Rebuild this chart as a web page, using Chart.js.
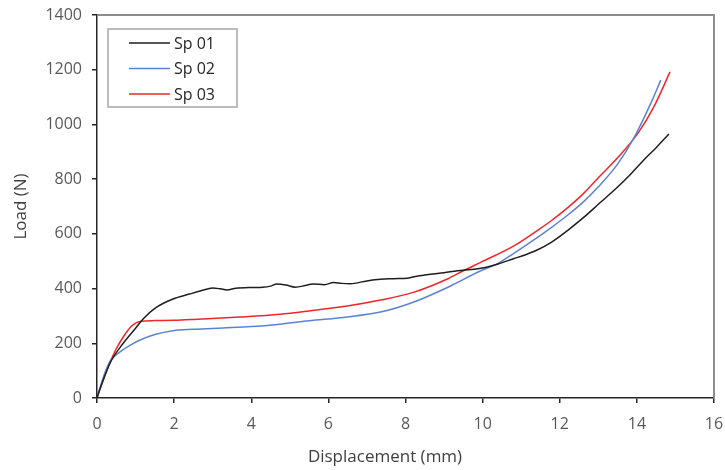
<!DOCTYPE html>
<html>
<head>
<meta charset="utf-8">
<script src="https://cdn.jsdelivr.net/npm/chart.js@4/dist/chart.umd.min.js"></script>
<style>
  html, body { margin: 0; padding: 0; background: #fff; }
  #wrap { width: 725px; height: 470px; position: relative; }
</style>
</head>
<body>
<div id="wrap"><canvas id="c" width="725" height="470"></canvas></div>
<script>
// ---- data ----
const seriesLabels = ['Sp 01', 'Sp 02', 'Sp 03'];
const xTitle = 'Displacement (mm)';
const yTitle = 'Load (N)';
const xTicks = [0, 2, 4, 6, 8, 10, 12, 14, 16];
const yTicks = [0, 200, 400, 600, 800, 1000, 1200, 1400];

const sp01X = [0, 0.1, 0.34, 0.68, 1.0, 1.2, 1.5, 1.97, 2.4, 2.7, 3.0, 3.2, 3.37, 3.6, 4.0, 4.3, 4.5, 4.66, 4.9, 5.14, 5.4, 5.6, 5.9, 6.13, 6.35, 6.57, 7.0, 7.35, 7.7, 8.05, 8.3, 8.65, 9.0, 9.35, 9.7, 9.95, 10.4, 10.8, 11.1, 11.4, 11.77, 12.2, 12.62, 13.0, 13.5, 13.85, 14.18, 14.5, 14.83];
const sp01Y = [0, 42, 128, 200, 255, 290, 328, 362, 380, 392, 402, 399, 395, 401, 404, 405, 409, 417, 413, 405, 411, 417, 414, 422, 419, 418, 428, 434, 436, 438, 445, 452, 458, 465, 470, 474, 490, 509, 523, 540, 568, 612, 660, 708, 771, 820, 870, 915, 965];

const sp02X = [0, 0.08, 0.2, 0.34, 0.5, 0.68, 0.9, 1.12, 1.5, 1.97, 2.5, 3.27, 4.0, 4.75, 5.5, 6.49, 7.35, 8.2, 9.1, 9.95, 10.4, 10.8, 11.3, 11.77, 12.2, 12.62, 13.0, 13.5, 13.92, 14.36, 14.62];
const sp02Y = [0, 38, 90, 135, 158, 177, 196, 212, 232, 246, 251, 256, 261, 270, 282, 296, 314, 350, 405, 465, 492, 528, 575, 622, 668, 718, 772, 855, 950, 1077, 1162];

const sp03X = [0, 0.1, 0.34, 0.5, 0.68, 0.86, 1.0, 1.12, 1.5, 2.0, 2.6, 3.71, 4.75, 5.5, 6.49, 7.35, 8.2, 9.1, 9.5, 9.95, 10.8, 11.5, 11.77, 12.2, 12.62, 13.0, 13.5, 14.03, 14.44, 14.86];
const sp03Y = [0, 42, 131, 180, 223, 258, 274, 280, 283, 284, 288, 296, 306, 318, 336, 358, 386, 436, 465, 496, 555, 620, 647, 695, 748, 805, 878, 968, 1064, 1192];

const colors = ['#1e1e1e', '#5b84cf', '#f0262a'];

function pts(xs, ys) { return xs.map((x, i) => ({ x: x, y: ys[i] })); }

const FONT = '"Open Sans", Lato, sans-serif';

const framePlugin = {
  id: 'frameLegend',
  afterDatasetsDraw(chart) {
    const { ctx, chartArea: a } = chart;
    ctx.save();
    // gray frame top and right
    ctx.strokeStyle = '#8c8c8c';
    ctx.lineWidth = 2;
    ctx.beginPath();
    ctx.moveTo(a.left, a.top);
    ctx.lineTo(a.right, a.top);
    ctx.lineTo(a.right, a.bottom);
    ctx.stroke();
    // legend box
    const bx = 108, by = 29, bw = 129, bh = 78;
    ctx.fillStyle = '#fff';
    ctx.fillRect(bx, by, bw, bh);
    ctx.strokeStyle = '#a6a6a6';
    ctx.lineWidth = 1.5;
    ctx.strokeRect(bx, by, bw, bh);
    ctx.font = '16px ' + FONT;
    ctx.textBaseline = 'middle';
    ctx.textAlign = 'left';
    chart.data.datasets.forEach((ds, i) => {
      const yy = 43 + i * 25.5;
      ctx.strokeStyle = ds.borderColor;
      ctx.lineWidth = 1.5;
      ctx.beginPath();
      ctx.moveTo(129, yy);
      ctx.lineTo(170, yy);
      ctx.stroke();
      ctx.fillStyle = '#262626';
      ctx.fillText(ds.label, 174, yy + 1);
    });
    // axis titles
    ctx.fillStyle = '#404040';
    ctx.font = '17px ' + FONT;
    ctx.textAlign = 'center';
    ctx.textBaseline = 'middle';
    ctx.fillText(xTitle, 385, 457);
    ctx.translate(21, (a.top + a.bottom) / 2);
    ctx.rotate(-Math.PI / 2);
    ctx.fillText(yTitle, 0, 0);
    ctx.restore();
  }
};

new Chart(document.getElementById('c'), {
  type: 'line',
  data: {
    datasets: [
      { label: seriesLabels[0], data: pts(sp01X, sp01Y), borderColor: colors[0] },
      { label: seriesLabels[1], data: pts(sp02X, sp02Y), borderColor: colors[1] },
      { label: seriesLabels[2], data: pts(sp03X, sp03Y), borderColor: colors[2] }
    ].map(d => Object.assign(d, { borderWidth: 1.5, pointRadius: 0, fill: false, cubicInterpolationMode: 'monotone' }))
  },
  options: {
    responsive: false,
    animation: false,
    devicePixelRatio: 1,
    layout: { padding: { top: 15, right: 11, left: 0, bottom: 0 } },
    plugins: { legend: { display: false }, tooltip: { enabled: false } },
    scales: {
      x: {
        type: 'linear',
        min: 0, max: 16,
        afterBuildTicks(s) { s.ticks = xTicks.map(v => ({ value: v })); },
        afterFit(s) { s.height = 72; s.paddingLeft = 0; s.paddingRight = 0; },
        border: { color: '#262626', width: 1.5 },
        grid: { drawOnChartArea: false, drawTicks: true, tickLength: 5, color: '#262626', lineWidth: 1.5 },
        ticks: { color: '#595959', font: { size: 16, family: FONT }, padding: 12, maxRotation: 0, callback: v => String(v) }
      },
      y: {
        min: 0, max: 1400,
        afterBuildTicks(s) { s.ticks = yTicks.map(v => ({ value: v })); },
        afterFit(s) { s.width = 97; s.paddingTop = 0; s.paddingBottom = 0; },
        border: { color: '#262626', width: 1.5 },
        grid: { drawOnChartArea: false, drawTicks: true, tickLength: 5, color: '#262626', lineWidth: 1.5 },
        ticks: { color: '#595959', font: { size: 16, family: FONT }, padding: 10, callback: v => String(v) }
      }
    }
  },
  plugins: [framePlugin]
});
</script>
</body>
</html>
